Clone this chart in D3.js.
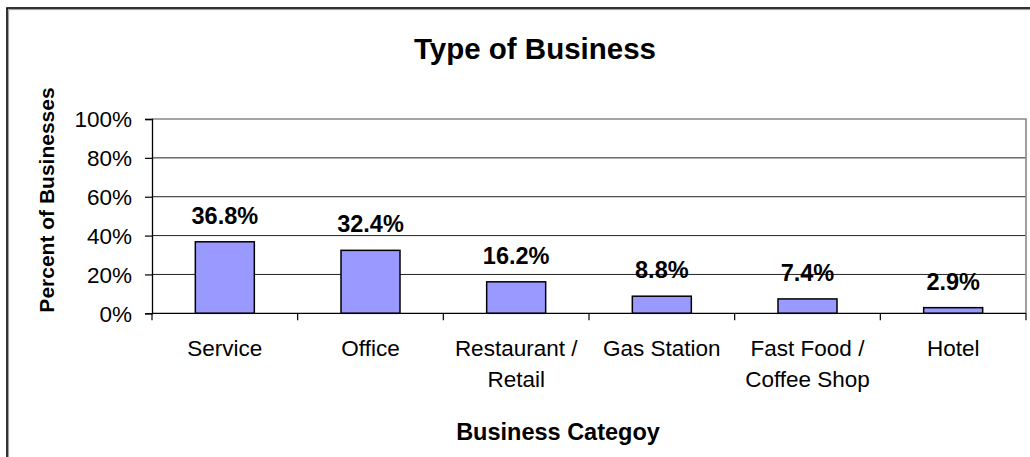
<!DOCTYPE html>
<html><head><meta charset="utf-8">
<script src="https://cdn.jsdelivr.net/npm/d3@7"></script>
<style>
body{margin:0;background:#fff;}
svg{display:block;font-family:"Liberation Sans",Arial,sans-serif;}
</style></head>
<body><svg id="c" width="1030" height="457"></svg>
<script>
const categories = [["Service"],["Office"],["Restaurant /","Retail"],["Gas Station"],["Fast Food /","Coffee Shop"],["Hotel"]];
const values = [36.8, 32.4, 16.2, 8.8, 7.4, 2.9];
const valueLabels = ["36.8%","32.4%","16.2%","8.8%","7.4%","2.9%"];
const yTicks = [0,20,40,60,80,100];
const title = "Type of Business";
const xTitle = "Business Categoy";
const yTitle = "Percent of Businesses";

const svg = d3.select("#c");
const L=152, R=1026, T=119, B=313.3;
const keys = categories.map((c,i)=>i);
const x = d3.scaleBand().domain(keys).range([L,R]).paddingInner(0.595).paddingOuter(0.2975);
const y = d3.scaleLinear().domain([0,100]).range([B,T]);

// outer border
svg.append("rect").attr("x",7).attr("y",8).attr("width",1040).attr("height",470)
  .attr("fill","none").attr("stroke","#000").attr("stroke-width",1.6);
svg.append("line").attr("x1",8.5).attr("x2",1030).attr("y1",9.6).attr("y2",9.6).attr("stroke","#999").attr("stroke-width",1);
svg.append("line").attr("x1",8.6).attr("x2",8.6).attr("y1",9.6).attr("y2",457).attr("stroke","#999").attr("stroke-width",1);

// gridlines
svg.append("g").selectAll("line").data(yTicks.filter(d=>d>0 && d<100)).join("line")
  .attr("x1",L).attr("x2",R).attr("y1",d=>y(d)).attr("y2",d=>y(d))
  .attr("stroke","#222").attr("stroke-width",1);
// plot border top/right gray
svg.append("path").attr("d",`M${L},${y(100)}H${R}V${B}`).attr("fill","none").attr("stroke","#888").attr("stroke-width",1.6);

// y axis
const yAxis = d3.axisLeft(y).tickValues(yTicks).tickFormat(d=>d+"%").tickSize(7).tickPadding(13);
const gy = svg.append("g").attr("transform",`translate(${L},0)`).call(yAxis);
gy.select(".domain").attr("stroke","#000").attr("stroke-width",1.3);
gy.selectAll(".tick line").attr("stroke","#000").attr("stroke-width",1.2);
gy.selectAll(".tick text").attr("font-size",22.5).attr("fill","#000").attr("font-family","Liberation Sans, Arial, sans-serif").attr("dy","0.35em");

// bars
svg.append("g").selectAll("rect").data(values).join("rect")
  .attr("x",(d,i)=>x(i)).attr("width",x.bandwidth())
  .attr("y",d=>y(d)).attr("height",d=>y(0)-y(d))
  .attr("fill","#9999FF").attr("stroke","#000").attr("stroke-width",1.5);

// x axis line and boundary ticks
svg.append("line").attr("x1",L).attr("x2",R).attr("y1",B).attr("y2",B).attr("stroke","#000").attr("stroke-width",1.3);
const step = x.step();
const bounds = d3.range(categories.length+1).map(i=>L+i*step);
svg.append("g").selectAll("line").data(bounds).join("line")
  .attr("x1",d=>d).attr("x2",d=>d).attr("y1",B).attr("y2",B+7).attr("stroke","#000").attr("stroke-width",1.2);

// x labels
const cx = i=>x(i)+x.bandwidth()/2;
const xl = svg.append("g").selectAll("text").data(categories).join("text")
  .attr("x",(d,i)=>cx(i)).attr("y",356).attr("text-anchor","middle").attr("font-size",22.5).attr("fill","#000");
xl.each(function(d,i){
  const t=d3.select(this);
  d.forEach((s,j)=>t.append("tspan").attr("x",cx(i)).attr("y",356+j*30.5).text(s));
});

// value labels
svg.append("g").selectAll("text").data(values).join("text")
  .attr("x",(d,i)=>cx(i)).attr("y",d=>y(d)-18).attr("text-anchor","middle")
  .attr("font-size",23.5).attr("font-weight","bold").attr("fill","#000")
  .text((d,i)=>valueLabels[i]);

// titles
svg.append("text").attr("x",535).attr("y",58.5).attr("text-anchor","middle")
  .attr("font-size",29.5).attr("font-weight","bold").text(title);
svg.append("text").attr("x",558).attr("y",440).attr("text-anchor","middle")
  .attr("font-size",23.5).attr("font-weight","bold").text(xTitle);
svg.append("text").attr("transform","translate(53.5,200) rotate(-90)").attr("text-anchor","middle")
  .attr("font-size",21).attr("font-weight","bold").text(yTitle);
</script></body></html>
